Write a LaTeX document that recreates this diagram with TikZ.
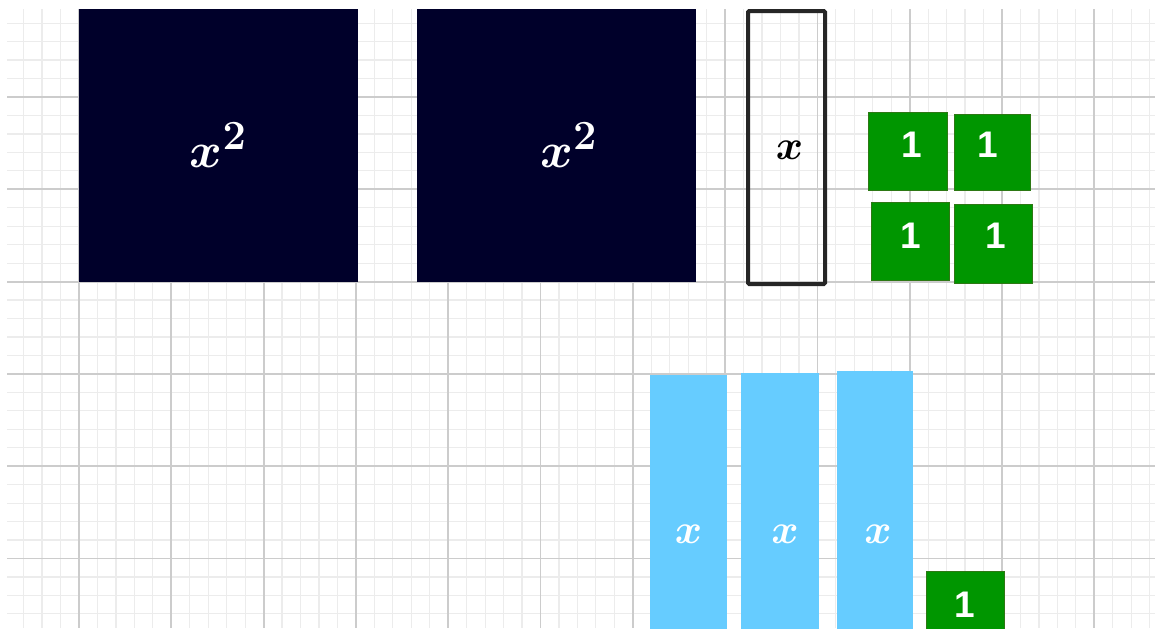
\documentclass[tikz,border=0pt]{standalone}
\usepackage{fontspec}
\newfontfamily\tilefont{Liberation Sans}
\definecolor{navytile}{RGB}{0,0,42}
\definecolor{greentile}{RGB}{0,150,0}
\definecolor{greenedge}{RGB}{45,120,20}
\definecolor{bluetile}{RGB}{102,204,255}
\definecolor{minorgrid}{RGB}{236,236,236}
\definecolor{majorgrid}{RGB}{204,204,204}
\begin{document}
\begin{tikzpicture}[x=0.5pt, y=-0.5pt,
  minorline/.style={minorgrid, line width=0.6pt},
  majorline/.style={majorgrid, line width=0.9pt},
  squaretile/.style={fill=navytile, inner sep=0pt, minimum width=139.5pt, minimum height=136.5pt},
  squaretext/.style={text=white, inner sep=0pt, font=\fontsize{28}{32}\selectfont\boldmath},
  xbarframe/.style={draw=black!85, line width=2pt, rounded corners=0.6pt, inner sep=0pt,
    minimum width=38.5pt, minimum height=136.5pt},
  xbartext/.style={inner sep=0pt, font=\fontsize{20}{24}\selectfont\boldmath},
  unittile/.style={fill=greentile, draw=greenedge, line width=0.5pt, inner sep=0pt,
    minimum width=39pt, minimum height=39pt},
  unittext/.style={text=white, inner sep=0pt, font=\tilefont\bfseries\fontsize{18.5}{22}\selectfont},
  xtile/.style={fill=bluetile, inner sep=0pt, minimum width=38.5pt},
  xtiletext/.style={text=white, inner sep=0pt, font=\fontsize{20}{24}\selectfont\boldmath}]
  \useasboundingbox (0,0) rectangle (1155,628);
  \clip (0,0) rectangle (1155,628);
  \fill[white] (0,0) rectangle (1155,628);

  % grid paper
  \foreach \i in {-3,...,58}
    \draw[minorline] ({79+\i*18.46},9) -- ({79+\i*18.46},628);
  \foreach \j in {-4,...,28}
    \draw[minorline] (7,{97+\j*18.46}) -- (1155,{97+\j*18.46});
  \foreach \i in {0,5,...,55}
    \draw[majorline] ({79+\i*18.46},9) -- ({79+\i*18.46},628);
  \foreach \j in {0,5,...,25}
    \draw[majorline] (7,{97+\j*18.46}) -- (1155,{97+\j*18.46});

  % x^2 tiles
  \node[squaretile] (sqA) at (218.5,145.5) {};
  \node[squaretext] (sqAtext) at (sqA.center) {$x^2$};
  \node[squaretile] (sqB) at (556,145.5) {};
  \node[squaretext] (sqBtext) at ([xshift=6.5pt]sqB.center) {$x^2$};

  % outlined x tile
  \node[xbarframe] (xbar) at (786.5,147.5) {};
  \node[xbartext] (xbartext) at ([xshift=1.5pt,yshift=-1.5pt]xbar.center) {$x$};

  % unit tiles
  \node[unittile, minimum width=39.5pt] (oneA) at (907.5,151) {};
  \node[unittext] (oneAtext) at ([xshift=2.25pt,yshift=3pt]oneA.center) {1};
  \node[unittile, minimum width=38pt, minimum height=38pt] (oneB) at (992,152) {};
  \node[unittext] (oneBtext) at ([xshift=-2pt,yshift=3.5pt]oneB.center) {1};
  \node[unittile] (oneC) at (910,241) {};
  \node[unittext] (oneCtext) at ([xshift=0.5pt,yshift=2.5pt]oneC.center) {1};
  \node[unittile, minimum height=39.5pt] (oneD) at (993,243.5) {};
  \node[unittext] (oneDtext) at ([xshift=1.5pt,yshift=3.75pt]oneD.center) {1};

  % x tiles
  \node[xtile, minimum height=157pt] (xtileA) at (688.5,532) {};
  \node[xtiletext] (xtileAtext) at ([yshift=-1pt]xtileA.center) {$x$};
  \node[xtile, minimum width=39pt, minimum height=159pt] (xtileB) at (780,532) {};
  \node[xtiletext] (xtileBtext) at ([xshift=2.5pt,yshift=-1pt]xtileB.center) {$x$};
  \node[xtile, minimum width=38pt, minimum height=161pt] (xtileC) at (875,532) {};
  \node[xtiletext] (xtileCtext) at ([xshift=1.5pt,yshift=-1pt]xtileC.center) {$x$};

  % lone unit tile
  \node[unittile] (oneE) at (965,610) {};
  \node[unittext] (oneEtext) at ([yshift=2.5pt]oneE.center) {1};
\end{tikzpicture}
\end{document}
